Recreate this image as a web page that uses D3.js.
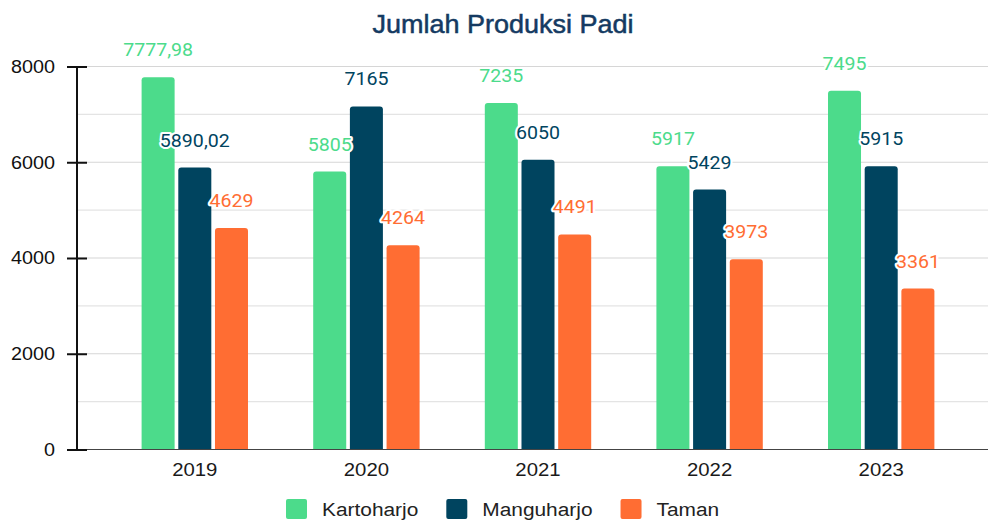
<!DOCTYPE html>
<html>
<head>
<meta charset="utf-8">
<script src="https://cdn.jsdelivr.net/npm/d3@7"></script>
<style>
  body { margin: 0; background: #fff; }
  svg { display: block; font-family: "Liberation Sans", Arial, sans-serif; }
</style>
</head>
<body>
<svg id="chart" width="988" height="525"></svg>
<script>
// data
const years = ['2019', '2020', '2021', '2022', '2023'];
const seriesNames = ['Kartoharjo', 'Manguharjo', 'Taman'];
const kartoharjo = [7777.98, 5805, 7235, 5917, 7495];
const manguharjo = [5890.02, 7165, 6050, 5429, 5915];
const taman = [4629, 4264, 4491, 3973, 3361];
const yTicks = [0, 2000, 4000, 6000, 8000];
const colors = ['#4cdb8b', '#00445f', '#ff6d33'];

const seriesValues = [kartoharjo, manguharjo, taman];
const rows = years.map((yr, i) => ({
    year: yr,
    values: seriesNames.map((s, j) => ({ key: s, value: seriesValues[j][i], idx: j }))
}));

const svg = d3.select('#chart');

// scales
const y = d3.scaleLinear().domain([0, 8000]).range([449.5, 66.5]);
const x0 = d3.scaleBand().domain(years).range([109, 967]).paddingInner(0.38).paddingOuter(0.19);
const x1 = d3.scaleBand().domain(seriesNames).range([0, x0.bandwidth()]).paddingInner(0.1);

// gridlines
svg.append('g')
    .selectAll('line')
    .data(d3.range(1000, 8001, 1000))
    .join('line')
    .attr('x1', 77).attr('x2', 988)
    .attr('y1', d => y(d)).attr('y2', d => y(d))
    .attr('stroke', d => d % 2000 === 0 ? '#d6d6d6' : '#e4e4e4')
    .attr('stroke-width', 1.2);

// title
svg.append('text')
    .attr('transform', 'translate(503,33) scale(1.08,1)')
    .attr('text-anchor', 'middle')
    .attr('font-size', 25)
    .attr('fill', '#143a62')
    .attr('stroke', '#143a62')
    .attr('stroke-width', 0.5)
    .text('Jumlah Produksi Padi');

// bars
const groups = svg.append('g')
    .selectAll('g')
    .data(rows)
    .join('g')
    .attr('transform', d => `translate(${x0(d.year)},0)`);

groups.selectAll('path')
    .data(d => d.values)
    .join('path')
    .attr('fill', d => colors[d.idx])
    .attr('d', d => {
        const bx = x1(d.key), bw = x1.bandwidth(), top = y(d.value), bot = y(0), r = 3;
        return `M${bx},${bot}V${top + r}Q${bx},${top} ${bx + r},${top}H${bx + bw - r}Q${bx + bw},${top} ${bx + bw},${top + r}V${bot}Z`;
    });

// baseline
svg.append('line')
    .attr('x1', 77).attr('x2', 988)
    .attr('y1', y(0)).attr('y2', y(0))
    .attr('stroke', '#444').attr('stroke-width', 1.2);

// y axis
const yAxis = svg.append('g')
    .attr('transform', 'translate(77,0)')
    .call(d3.axisLeft(y).tickValues(yTicks).tickFormat(d3.format('d')).tickSize(10).tickPadding(12));
yAxis.select('.domain').attr('stroke', '#111').attr('stroke-width', 2)
    .attr('d', `M0,${y(8000)}V${y(0)}`);
yAxis.selectAll('.tick line').attr('x1', -10).attr('x2', 10).attr('stroke', '#111').attr('stroke-width', 2);
yAxis.selectAll('.tick text')
    .attr('x', null)
    .attr('transform', 'translate(-22,0) scale(1.07,1)')
    .attr('font-size', 18.5)
    .attr('font-family', '"Liberation Sans", Arial, sans-serif')
    .attr('fill', '#111');

// x labels
svg.append('g')
    .selectAll('text')
    .data(years)
    .join('text')
    .attr('transform', d => `translate(${x0(d) + x0.bandwidth() / 2},476) scale(1.1,1)`)
    .attr('text-anchor', 'middle')
    .attr('font-size', 18.5)
    .attr('fill', '#1a1a1a')
    .text(d => d);

// value labels
groups.selectAll('text')
    .data(d => d.values)
    .join('text')
    .attr('transform', d => `translate(${x1(d.key) + x1.bandwidth() / 2},${y(d.value) - 21}) scale(1.12,1)`)
    .attr('text-anchor', 'middle')
    .attr('font-family', 'Roboto, sans-serif')
    .attr('font-size', 17.5)
    .attr('fill', d => colors[d.idx])
    .attr('stroke', '#fff')
    .attr('stroke-width', 4)
    .attr('stroke-linejoin', 'round')
    .attr('paint-order', 'stroke')
    .text(d => String(d.value).replace('.', ','));

// legend
const legend = svg.append('g');
let lx = 286;
seriesNames.forEach((name, i) => {
    legend.append('rect')
        .attr('x', lx).attr('y', 499)
        .attr('width', 21).attr('height', 20)
        .attr('rx', 2)
        .attr('fill', colors[i]);
    const t = legend.append('text')
        .attr('transform', `translate(${lx + 36},516) scale(1.16,1)`)
        .attr('font-size', 18)
        .attr('fill', '#222')
        .text(name);
    lx += 36 + t.node().getComputedTextLength() * 1.16 + 28;
});
</script>
</body>
</html>
